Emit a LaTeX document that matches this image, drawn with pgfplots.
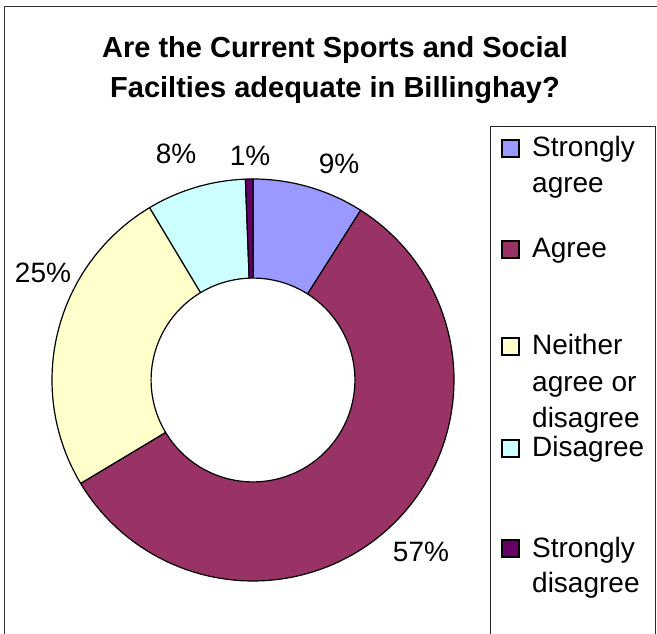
\documentclass[border=0pt]{standalone}
\usepackage{fontspec}
\setmainfont{Liberation Sans}
\usepackage{pgfplots}
\usepackage{pgfplotstable}
\pgfplotsset{compat=1.18}
\definecolor{cSA}{HTML}{9999FF}
\definecolor{cA}{HTML}{993366}
\definecolor{cN}{HTML}{FFFFCC}
\definecolor{cD}{HTML}{CCFFFF}
\definecolor{cSD}{HTML}{660066}
\pgfplotstableread{
name value col
SA 9.0 cSA
A 57.4 cA
N 25.0 cN
D 8.0 cD
SD 0.6 cSD
}\donut
\begin{document}
\begin{tikzpicture}[x=1pt,y=1pt]
\path[use as bounding box, clip] (0pt,0pt) rectangle (657pt,633pt);
\begin{axis}[at={(253pt,253pt)}, anchor=center, width=402pt, height=402pt,
  scale only axis, xmin=-1, xmax=1, ymin=-1, ymax=1, hide axis, clip=false]
\def\cum{0}
\pgfplotsforeachungrouped \i in {0,...,4}{%
  \pgfplotstablegetelem{\i}{value}\of\donut \let\sliceval\pgfplotsretval
  \pgfplotstablegetelem{\i}{col}\of\donut \let\slicecol\pgfplotsretval
  \pgfmathsetmacro\aS{90-3.6*\cum}%
  \pgfmathsetmacro\aE{90-3.6*(\cum+\sliceval)}%
  \edef\doplot{\noexpand\addplot[fill=\slicecol, draw=black, line width=1.2pt,
    samples at={-1,0,1,...,100,101}]
    ({(x<0||x>100)?0:cos(\aE+(\aS-\aE)*x/100)},{(x<0||x>100)?0:sin(\aE+(\aS-\aE)*x/100)});}%
  \doplot
  \pgfmathsetmacro\cum{\cum+\sliceval}%
}
\addplot[fill=white, draw=black, line width=1.2pt, domain=0:360, samples=181]
  ({0.507*cos(x)},{0.507*sin(x)});
\end{axis}
% outer border
\draw[line width=1.5pt, black!80] (4.5pt,-10pt) -- (4.5pt,626.5pt) -- (670pt,626.5pt);
% title
\node[anchor=base, font=\fontsize{29}{35}\selectfont\bfseries] at (335pt,575pt) {Are the Current Sports and Social};
\node[anchor=base, font=\fontsize{29}{35}\selectfont\bfseries] at (335pt,535pt) {Facilties adequate in Billinghay?};
% percentage labels
\begin{scope}[every node/.style={anchor=base, font=\fontsize{28}{34}\selectfont}]
\node at (339pt,459pt) {9\%};
\node at (250pt,467pt) {1\%};
\node at (176pt,469pt) {8\%};
\node at (43pt,350pt) {25\%};
\node at (421pt,72pt) {57\%};
\end{scope}
% legend
\draw[line width=1pt, black!85] (490pt,-10pt) -- (490pt,506pt) -- (655pt,506pt) -- (655pt,-10pt);
\begin{scope}[every node/.style={anchor=base west, font=\fontsize{28}{34}\selectfont, inner sep=0pt}]
\draw[fill=cSA, line width=1.2pt] (502pt,476pt) rectangle (519pt,493pt);
\node at (532pt,476pt) {Strongly};
\node at (532pt,440pt) {agree};
\draw[fill=cA, line width=1.2pt] (502pt,375pt) rectangle (519pt,392pt);
\node at (532pt,375pt) {Agree};
\draw[fill=cN, line width=1.2pt] (502pt,278pt) rectangle (519pt,295pt);
\node at (532pt,278pt) {Neither};
\node at (532pt,241pt) {agree or};
\node at (532pt,205pt) {disagree};
\draw[fill=cD, line width=1.2pt] (502pt,176pt) rectangle (519pt,193pt);
\node at (532pt,176pt) {Disagree};
\draw[fill=cSD, line width=1.2pt] (502pt,76pt) rectangle (519pt,93pt);
\node at (532pt,76pt) {Strongly};
\node at (532pt,41pt) {disagree};
\end{scope}
\end{tikzpicture}
\end{document}
